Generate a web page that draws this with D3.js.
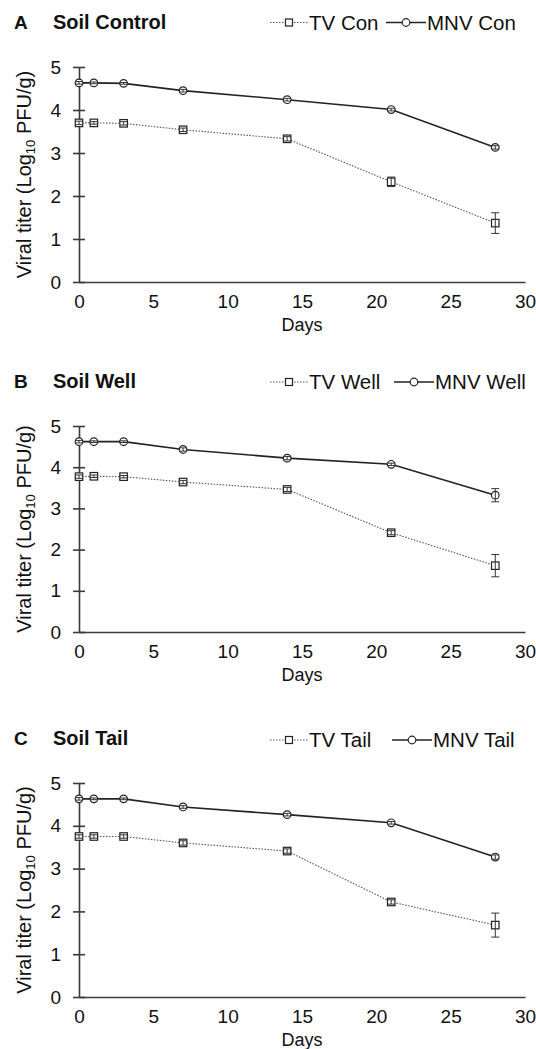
<!DOCTYPE html>
<html>
<head>
<meta charset="utf-8">
<script src="https://cdn.jsdelivr.net/npm/d3@7"></script>
<style>
  html, body { margin: 0; padding: 0; background: #fff; }
  svg { display: block; font-family: "Liberation Sans", Arial, sans-serif; }
</style>
</head>
<body>
<svg id="chart" width="536" height="1049"></svg>
<script>
// ---- data ----
const days = [0, 1, 3, 7, 14, 21, 28];
const xTicks = [0, 5, 10, 15, 20, 25, 30];
const yTicks = [0, 1, 2, 3, 4, 5];

const panelLetters = ["A", "B", "C"];
const panelTitles = ["Soil Control", "Soil Well", "Soil Tail"];
const tvNames = ["TV Con", "TV Well", "TV Tail"];
const mnvNames = ["MNV Con", "MNV Well", "MNV Tail"];

const tvCon = [3.70, 3.70, 3.69, 3.54, 3.33, 2.33, 1.37];
const tvConErr = [0.04, 0.03, 0.04, 0.04, 0.05, 0.11, 0.24];
const mnvCon = [4.63, 4.63, 4.62, 4.45, 4.24, 4.01, 3.13];
const mnvConErr = [0.03, 0.02, 0.02, 0.03, 0.03, 0.03, 0.04];

const tvWell = [3.77, 3.78, 3.77, 3.64, 3.46, 2.41, 1.61];
const tvWellErr = [0.04, 0.03, 0.03, 0.04, 0.05, 0.05, 0.27];
const mnvWell = [4.62, 4.62, 4.62, 4.43, 4.22, 4.07, 3.32];
const mnvWellErr = [0.03, 0.02, 0.02, 0.04, 0.04, 0.03, 0.16];

const tvTail = [3.75, 3.75, 3.75, 3.60, 3.41, 2.22, 1.68];
const tvTailErr = [0.04, 0.04, 0.04, 0.05, 0.05, 0.05, 0.28];
const mnvTail = [4.63, 4.63, 4.63, 4.44, 4.26, 4.07, 3.27];
const mnvTailErr = [0.03, 0.02, 0.02, 0.03, 0.03, 0.03, 0.05];

const tvSeries = [tvCon, tvWell, tvTail];
const tvErrs = [tvConErr, tvWellErr, tvTailErr];
const mnvSeries = [mnvCon, mnvWell, mnvTail];
const mnvErrs = [mnvConErr, mnvWellErr, mnvTailErr];

// ---- layout ----
const layout = [
  { top: 67, bottom: 282, titleY: 28.5, legendY: 29.5, leg2X: 386 },
  { top: 426, bottom: 632, titleY: 387.5, legendY: 389, leg2X: 394 },
  { top: 783, bottom: 997, titleY: 745, legendY: 747, leg2X: 392 }
];
const xLeft = 79, xRight = 525;
const axisColor = "#3a3a3a";
const textColor = "#111";

const svg = d3.select("#chart");
const x = d3.scaleLinear().domain([0, 30]).range([xLeft, xRight]);

function drawSquare(g, cx, cy, s) {
  g.append("rect").attr("x", cx - s / 2).attr("y", cy - s / 2)
    .attr("width", s).attr("height", s)
    .attr("fill", "#fff").attr("stroke", "#222").attr("stroke-width", 1.2);
}
function drawCircle(g, cx, cy, r) {
  g.append("circle").attr("cx", cx).attr("cy", cy).attr("r", r)
    .attr("fill", "#fff").attr("stroke", "#222").attr("stroke-width", 1.2);
}

layout.forEach((L, i) => {
  const g = svg.append("g");
  const y = d3.scaleLinear().domain([0, 5]).range([L.bottom, L.top]);

  // titles
  g.append("text").attr("x", 14).attr("y", L.titleY)
    .attr("font-size", 19).attr("font-weight", "bold").attr("fill", textColor)
    .text(panelLetters[i]);
  g.append("text").attr("x", 53).attr("y", L.titleY)
    .attr("font-size", 20).attr("font-weight", "bold").attr("fill", textColor)
    .text(panelTitles[i]);

  // legend
  const ly = L.legendY - 7;
  const lg = g.append("g");
  lg.append("line").attr("x1", 270).attr("x2", 308).attr("y1", ly).attr("y2", ly)
    .attr("stroke", "#555").attr("stroke-width", 1).attr("stroke-dasharray", "1.5,1.5");
  drawSquare(lg, 289, ly, 7);
  lg.append("text").attr("x", 309).attr("y", L.legendY)
    .attr("font-size", 20.5).attr("fill", textColor).text(tvNames[i]);
  lg.append("line").attr("x1", L.leg2X).attr("x2", L.leg2X + 40).attr("y1", ly).attr("y2", ly)
    .attr("stroke", "#222").attr("stroke-width", 1.5);
  drawCircle(lg, L.leg2X + 20, ly, 3.8);
  lg.append("text").attr("x", L.leg2X + 41).attr("y", L.legendY)
    .attr("font-size", 20.5).attr("fill", textColor).text(mnvNames[i]);

  // y axis
  const yAxis = g.append("g").attr("transform", `translate(${xLeft},0)`)
    .call(d3.axisLeft(y).tickValues(yTicks).tickFormat(d3.format("d")).tickSize(6).tickSizeOuter(0).tickPadding(12));
  yAxis.select(".domain").attr("stroke", axisColor).attr("stroke-width", 1.6);
  yAxis.selectAll(".tick line").attr("x1", -6).attr("x2", 6).attr("stroke", axisColor).attr("stroke-width", 1.6);
  yAxis.selectAll(".tick text").attr("font-size", 19).attr("fill", textColor)
    .attr("font-family", "Liberation Sans, Arial, sans-serif");

  // x axis
  const xAxis = g.append("g").attr("transform", `translate(0,${L.bottom})`)
    .call(d3.axisBottom(x).tickValues(xTicks).tickFormat(d3.format("d")).tickSize(0).tickSizeOuter(0).tickPadding(13));
  xAxis.select(".domain").attr("stroke", axisColor).attr("stroke-width", 1.6);
  xAxis.selectAll(".tick text").attr("font-size", 19).attr("fill", textColor)
    .attr("font-family", "Liberation Sans, Arial, sans-serif");

  // axis titles
  g.append("text").attr("x", (xLeft + xRight) / 2).attr("y", L.bottom + 49)
    .attr("text-anchor", "middle").attr("font-size", 18).attr("fill", textColor).text("Days");
  const yl = g.append("text")
    .attr("transform", `translate(31,${(L.top + L.bottom) / 2}) rotate(-90)`)
    .attr("text-anchor", "middle").attr("font-size", 20).attr("fill", textColor);
  yl.append("tspan").text("Viral titer (Log");
  yl.append("tspan").attr("font-size", 13).attr("dy", 4).text("10");
  yl.append("tspan").attr("dy", -4).text(" PFU/g)");

  // lines
  const tv = days.map((d, k) => ({ d, v: tvSeries[i][k], e: tvErrs[i][k] }));
  const mnv = days.map((d, k) => ({ d, v: mnvSeries[i][k], e: mnvErrs[i][k] }));
  const line = d3.line().x(p => x(p.d)).y(p => y(p.v));

  g.append("path").datum(tv).attr("d", line).attr("fill", "none")
    .attr("stroke", "#555").attr("stroke-width", 1.1).attr("stroke-dasharray", "1.5,1.5");
  g.append("path").datum(mnv).attr("d", line).attr("fill", "none")
    .attr("stroke", "#222").attr("stroke-width", 1.6);

  // markers
  tv.forEach(p => drawSquare(g, x(p.d), y(p.v), 7.5));
  mnv.forEach(p => drawCircle(g, x(p.d), y(p.v), 3.8));

  // error bars
  [tv, mnv].forEach(series => {
    series.forEach(p => {
      const cx = x(p.d), y1 = y(p.v - p.e), y2 = y(p.v + p.e);
      g.append("line").attr("x1", cx).attr("x2", cx).attr("y1", y1).attr("y2", y2)
        .attr("stroke", "#333").attr("stroke-width", 1);
      [y1, y2].forEach(yy => g.append("line").attr("x1", cx - 4).attr("x2", cx + 4)
        .attr("y1", yy).attr("y2", yy).attr("stroke", "#333").attr("stroke-width", 1));
    });
  });
});
</script>
</body>
</html>
